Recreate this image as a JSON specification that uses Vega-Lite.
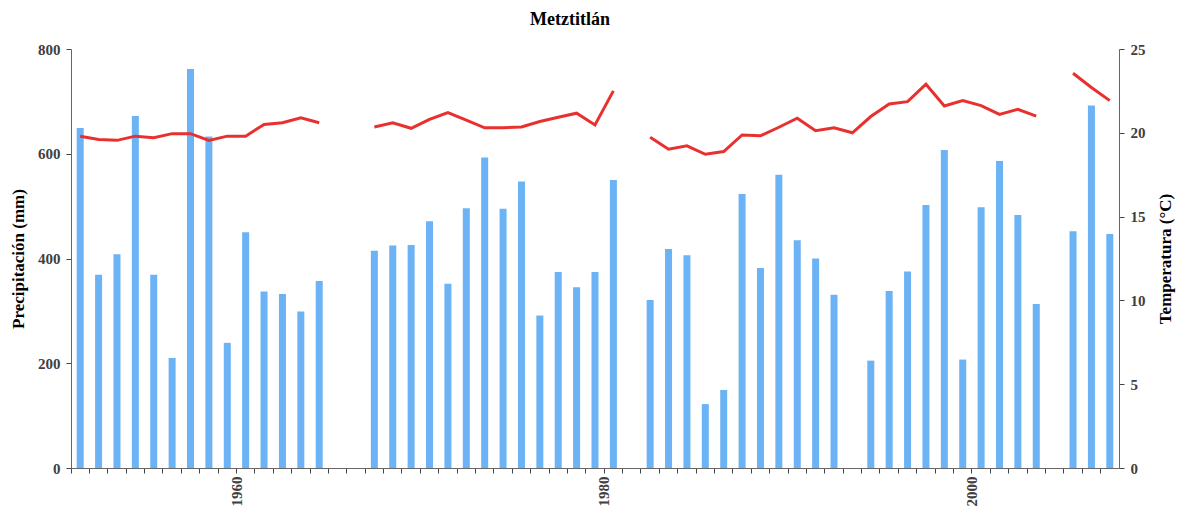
{
  "$schema": "https://vega.github.io/schema/vega-lite/v6.json",
  "width": 1048,
  "height": 419,
  "autosize": "none",
  "padding": {"left": 71, "top": 49, "right": 61, "bottom": 40},
  "background": "white",
  "title": {
    "text": "Metztitlán",
    "font": "Liberation Serif",
    "fontSize": 18,
    "fontWeight": "bold",
    "color": "#000000",
    "anchor": "middle",
    "dx": -25,
    "offset": 13
  },
  "config": {
    "view": {"stroke": null},
    "axis": {
      "labelFont": "Liberation Serif",
      "labelFontSize": 15,
      "labelFontWeight": "bold",
      "labelColor": "#404040",
      "titleFont": "Liberation Serif",
      "titleFontSize": 17,
      "titleFontWeight": "bold",
      "titleColor": "#000000",
      "domainColor": "#666666",
      "tickColor": "#444444",
      "tickSize": 5,
      "grid": false
    }
  },
  "data": {
    "values": [
      {"year": 1951, "precip": 649, "temp": 19.8},
      {"year": 1952, "precip": 369, "temp": 19.6},
      {"year": 1953, "precip": 408, "temp": 19.55},
      {"year": 1954, "precip": 672, "temp": 19.8},
      {"year": 1955, "precip": 369, "temp": 19.7},
      {"year": 1956, "precip": 210, "temp": 19.95},
      {"year": 1957, "precip": 762, "temp": 19.95},
      {"year": 1958, "precip": 633, "temp": 19.55},
      {"year": 1959, "precip": 239, "temp": 19.8},
      {"year": 1960, "precip": 450, "temp": 19.8},
      {"year": 1961, "precip": 337, "temp": 20.5},
      {"year": 1962, "precip": 332, "temp": 20.6},
      {"year": 1963, "precip": 299, "temp": 20.9},
      {"year": 1964, "precip": 357, "temp": 20.6},
      {"year": 1965, "precip": null, "temp": null},
      {"year": 1966, "precip": null, "temp": null},
      {"year": 1967, "precip": 415, "temp": 20.35},
      {"year": 1968, "precip": 425, "temp": 20.6},
      {"year": 1969, "precip": 426, "temp": 20.27},
      {"year": 1970, "precip": 471, "temp": 20.8},
      {"year": 1971, "precip": 352, "temp": 21.2},
      {"year": 1972, "precip": 496, "temp": 20.75},
      {"year": 1973, "precip": 593, "temp": 20.3},
      {"year": 1974, "precip": 495, "temp": 20.3},
      {"year": 1975, "precip": 547, "temp": 20.35},
      {"year": 1976, "precip": 291, "temp": 20.67},
      {"year": 1977, "precip": 374, "temp": 20.93},
      {"year": 1978, "precip": 345, "temp": 21.17},
      {"year": 1979, "precip": 374, "temp": 20.47},
      {"year": 1980, "precip": 550, "temp": 22.5},
      {"year": 1981, "precip": null, "temp": null},
      {"year": 1982, "precip": 321, "temp": 19.73},
      {"year": 1983, "precip": 418, "temp": 19.02},
      {"year": 1984, "precip": 406, "temp": 19.22},
      {"year": 1985, "precip": 122, "temp": 18.72},
      {"year": 1986, "precip": 149, "temp": 18.88},
      {"year": 1987, "precip": 523, "temp": 19.87},
      {"year": 1988, "precip": 382, "temp": 19.82},
      {"year": 1989, "precip": 560, "temp": 20.33},
      {"year": 1990, "precip": 435, "temp": 20.87},
      {"year": 1991, "precip": 400, "temp": 20.13},
      {"year": 1992, "precip": 331, "temp": 20.3},
      {"year": 1993, "precip": null, "temp": 20.0},
      {"year": 1994, "precip": 205, "temp": 20.97},
      {"year": 1995, "precip": 338, "temp": 21.72},
      {"year": 1996, "precip": 375, "temp": 21.86},
      {"year": 1997, "precip": 502, "temp": 22.9},
      {"year": 1998, "precip": 607, "temp": 21.6},
      {"year": 1999, "precip": 207, "temp": 21.92},
      {"year": 2000, "precip": 498, "temp": 21.62},
      {"year": 2001, "precip": 586, "temp": 21.1},
      {"year": 2002, "precip": 483, "temp": 21.4},
      {"year": 2003, "precip": 313, "temp": 21.0},
      {"year": 2004, "precip": null, "temp": null},
      {"year": 2005, "precip": 452, "temp": 23.55},
      {"year": 2006, "precip": 692, "temp": 22.7},
      {"year": 2007, "precip": 447, "temp": 21.92}
    ]
  },
  "encoding": {
    "x": {
      "field": "year",
      "type": "ordinal",
      "scale": {
        "domain": [1951,1952,1953,1954,1955,1956,1957,1958,1959,1960,1961,1962,1963,1964,1965,1966,1967,1968,1969,1970,1971,1972,1973,1974,1975,1976,1977,1978,1979,1980,1981,1982,1983,1984,1985,1986,1987,1988,1989,1990,1991,1992,1993,1994,1995,1996,1997,1998,1999,2000,2001,2002,2003,2004,2005,2006,2007],
        "paddingInner": 0,
        "paddingOuter": 0
      },
      "axis": {
        "title": null,
        "bandPosition": 0,
        "labelAngle": 270,
        "labelAlign": "right",
        "labelBaseline": "middle",
        "labelOffset": -9,
        "labelPadding": 3,
        "labelOverlap": false,
        "labelExpr": "indexof(['1960','1980','2000'], datum.label) >= 0 ? datum.label : ''"
      }
    }
  },
  "layer": [
    {
      "mark": {"type": "bar", "color": "#6BB3F4", "size": 7},
      "encoding": {
        "y": {
          "field": "precip",
          "type": "quantitative",
          "scale": {"domain": [0, 800], "nice": false},
          "axis": {
            "title": "Precipitación (mm)",
            "values": [0, 200, 400, 600, 800],
            "labelPadding": 6,
            "titlePadding": 10
          }
        }
      }
    },
    {
      "mark": {"type": "line", "color": "#E8312F", "strokeWidth": 3},
      "encoding": {
        "y": {
          "field": "temp",
          "type": "quantitative",
          "scale": {"domain": [0, 25], "nice": false},
          "axis": {
            "orient": "right",
            "title": "Temperatura (°C)",
            "titleAngle": 270,
            "titleBaseline": "top",
            "values": [0, 5, 10, 15, 20, 25],
            "labelPadding": 6,
            "titlePadding": 12
          }
        }
      }
    }
  ],
  "resolve": {"scale": {"y": "independent"}}
}
